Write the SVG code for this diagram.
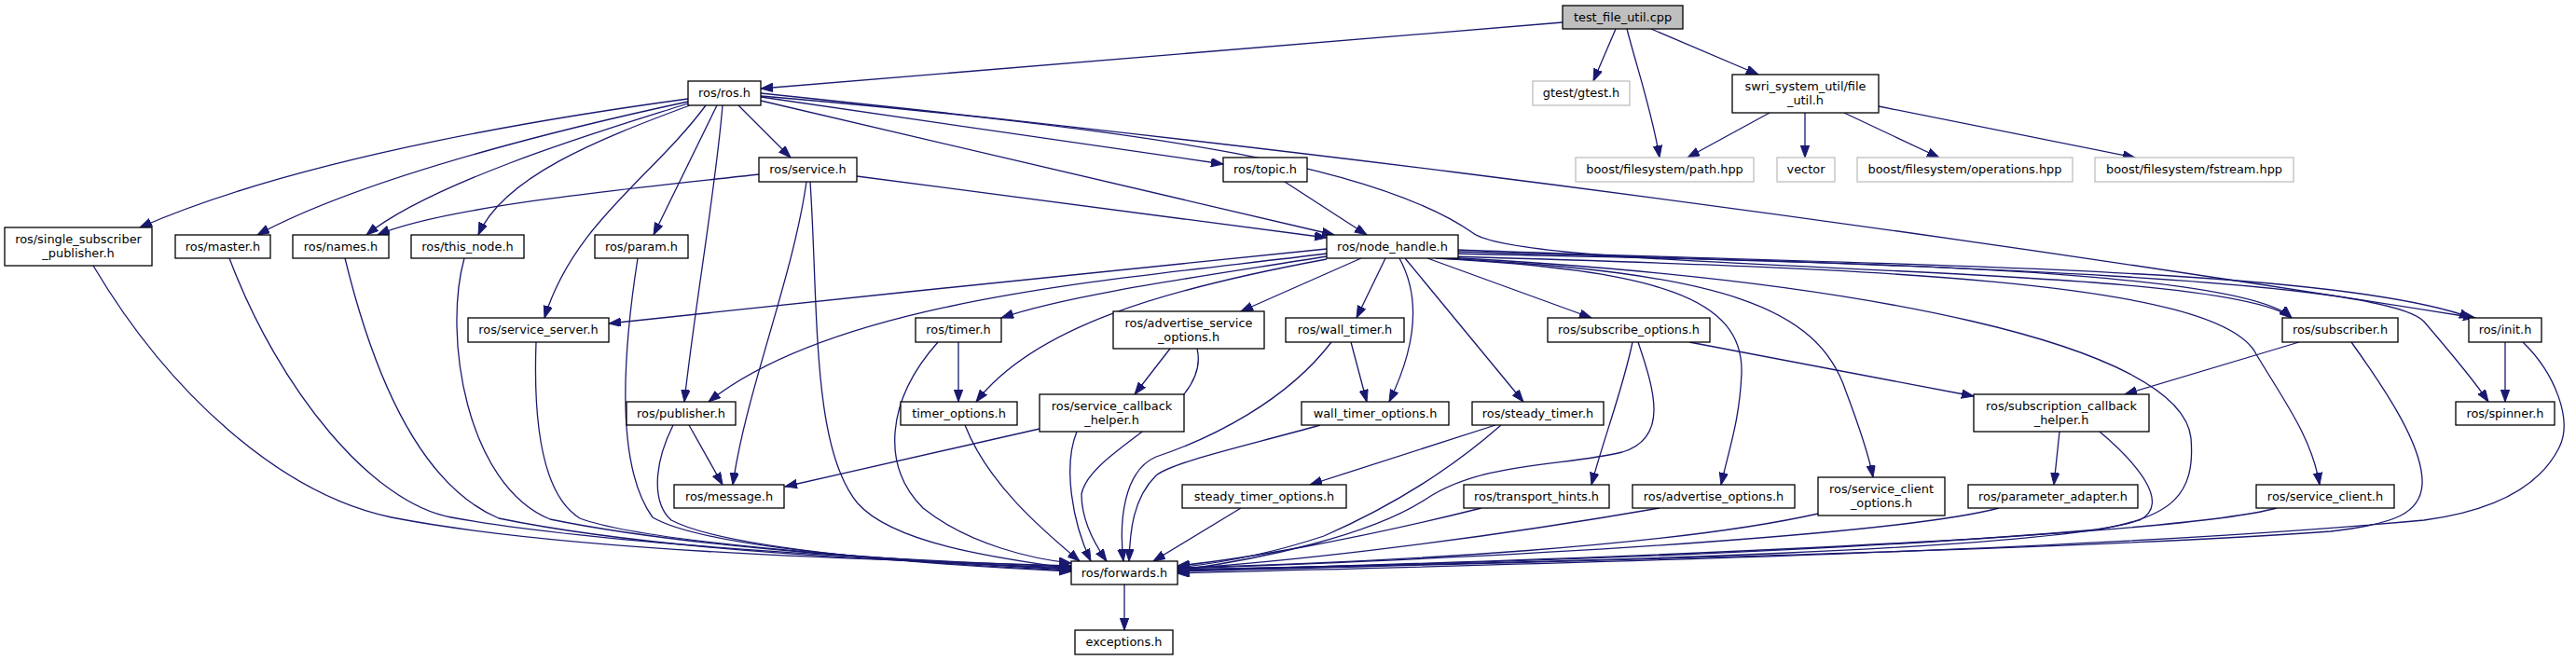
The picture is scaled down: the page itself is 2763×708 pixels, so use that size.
<svg xmlns="http://www.w3.org/2000/svg" width="2763" height="708" viewBox="0 0 2763 708">
<style>
.n rect{fill:#fff;stroke:#000;stroke-width:1.3}
.x rect{fill:#fff;stroke:#bfbfbf;stroke-width:1.3}
.r rect{fill:#bfbfbf;stroke:#000;stroke-width:1.3}
text{font-family:"DejaVu Sans","Liberation Sans",sans-serif;font-size:12.9px;text-anchor:middle;fill:#000}
#edges path{fill:none;stroke:#191970;stroke-width:1.3;marker-end:url(#a)}
</style>
<defs>
<marker id="a" markerWidth="14" markerHeight="10" refX="13" refY="4.7" orient="auto" markerUnits="userSpaceOnUse"><path d="M0,0 L13,4.7 L0,9.4 z" fill="#191970" stroke="#191970" stroke-width="1"/></marker>
</defs>
<rect width="2763" height="708" fill="#fff"/>
<g id="edges">
<path d="M1676,24 L816,95"/>
<path d="M1733,31 L1709,87"/>
<path d="M1745,31 C1755,70 1772,120 1780,169"/>
<path d="M1771,31 L1886,80"/>
<path d="M1898,121 L1810,169"/>
<path d="M1936,121 L1936,169"/>
<path d="M1978,121 L2080,169"/>
<path d="M2015,114 L2290,169"/>
<path d="M738,106 C620,122 330,165 150,244"/>
<path d="M738,109 C640,130 400,185 276,252"/>
<path d="M738,111 C680,130 470,190 393,252"/>
<path d="M740,113 C640,150 540,190 513,252"/>
<path d="M757,113 C700,190 615,240 584,341"/>
<path d="M769,113 L701,252"/>
<path d="M775,113 C768,200 745,330 734,431"/>
<path d="M792,113 L848,169"/>
<path d="M816,104 L1312,176"/>
<path d="M816,108 L1431,252"/>
<path d="M816,100 C1200,140 1800,205 2655,341"/>
<path d="M816,103 C1250,140 1480,180 1580,250 C1640,295 2380,280 2458,341"/>
<path d="M814,187 C700,200 480,220 405,252"/>
<path d="M919,189 L1423,255"/>
<path d="M865,195 C850,300 800,420 786,520"/>
<path d="M869,195 C878,330 870,480 920,540 C960,585 1080,600 1149,610"/>
<path d="M1378,195 L1466,252"/>
<path d="M100,285 C180,420 300,530 420,555 C600,590 900,600 1149,607"/>
<path d="M246,277 C300,420 400,540 484,555 C650,585 950,600 1149,608"/>
<path d="M370,277 C400,400 450,520 535,556 C700,590 950,602 1149,609"/>
<path d="M498,277 C475,360 500,520 590,557 C750,590 1000,603 1149,610"/>
<path d="M684,277 C668,380 660,500 700,555 C760,590 1000,605 1149,612"/>
<path d="M575,367 C572,450 580,530 622,556 C700,585 1000,603 1149,611"/>
<path d="M722,456 C700,500 700,540 720,558 C780,590 1000,606 1149,613"/>
<path d="M739,456 L775,520"/>
<path d="M1115,460 L842,522"/>
<path d="M1028,367 L1028,431"/>
<path d="M1006,367 C950,430 945,500 990,545 C1040,585 1110,600 1149,604"/>
<path d="M1035,456 C1060,520 1120,570 1158,602"/>
<path d="M1155,463 C1140,500 1150,560 1170,602"/>
<path d="M1284,374 C1300,440 1170,480 1160,530 C1160,560 1175,585 1187,602"/>
<path d="M1255,374 L1217,423"/>
<path d="M1449,367 L1466,431"/>
<path d="M1428,367 C1380,430 1300,470 1240,490 C1205,505 1200,560 1205,602"/>
<path d="M1416,456 C1330,480 1260,495 1240,510 C1215,535 1212,570 1211,602"/>
<path d="M1604,456 L1405,520"/>
<path d="M1610,456 C1560,500 1500,540 1420,575 C1360,595 1300,605 1263,609"/>
<path d="M1331,545 L1237,602"/>
<path d="M1589,545 C1450,580 1330,600 1263,607"/>
<path d="M1780,545 C1550,585 1350,605 1263,610"/>
<path d="M1751,367 C1740,420 1720,470 1707,520"/>
<path d="M1757,367 C1775,420 1790,470 1740,485 C1680,500 1590,495 1530,535 C1470,575 1350,600 1263,612"/>
<path d="M1812,367 L2117,425"/>
<path d="M2466,367 L2279,423"/>
<path d="M2522,367 C2560,420 2600,480 2598,520 C2596,550 2570,562 2500,570 C2200,592 1500,606 1263,613"/>
<path d="M2687,367 L2687,431"/>
<path d="M2706,367 C2740,400 2760,450 2745,480 C2720,530 2660,550 2600,558 C2200,595 1500,608 1263,615"/>
<path d="M2209,463 L2203,520"/>
<path d="M2252,463 C2290,495 2330,540 2295,558 C2200,590 1700,603 1263,611"/>
<path d="M2144,545 C2050,570 1700,595 1263,610"/>
<path d="M1950,551 C1800,585 1500,603 1263,609"/>
<path d="M2442,545 C2350,570 1900,595 1263,612"/>
<path d="M1423,267 C1200,290 900,320 653,347"/>
<path d="M1423,272 C1200,300 900,320 760,431"/>
<path d="M1423,275 C1300,295 1150,315 1074,341"/>
<path d="M1423,278 C1250,310 1110,350 1047,431"/>
<path d="M1460,277 L1331,334"/>
<path d="M1486,277 L1455,341"/>
<path d="M1501,277 C1530,330 1510,390 1490,431"/>
<path d="M1507,277 L1634,431"/>
<path d="M1531,277 L1707,341"/>
<path d="M1540,277 C1780,290 1870,320 1868,400 C1866,450 1855,480 1846,520"/>
<path d="M1545,277 C1850,292 1950,330 1980,420 C1995,460 2005,490 2009,512"/>
<path d="M1550,276 C2000,300 2340,370 2350,470 C2355,530 2330,555 2250,568 C2000,590 1600,605 1263,611"/>
<path d="M1555,275 C2000,288 2380,300 2420,380 C2450,430 2480,470 2488,520"/>
<path d="M1560,272 C1900,280 2400,285 2458,341"/>
<path d="M1564,268 C2000,285 2500,285 2651,341"/>
<path d="M1564,270 C2100,285 2560,300 2600,345 C2630,380 2655,410 2669,431"/>
<path d="M1206,627 L1206,676"/>
</g>
<g id="test_file_util" class="r"><rect x="1676" y="6" width="129" height="25"/><text x="1740.5" y="22.8">test_file_util.cpp</text></g>
<g id="ros_h" class="n"><rect x="738" y="87" width="78" height="26"/><text x="777" y="104.3">ros/ros.h</text></g>
<g id="gtest" class="x"><rect x="1644" y="87" width="104" height="26"/><text x="1696" y="104.3">gtest/gtest.h</text></g>
<g id="file_util" class="n"><rect x="1858" y="80" width="157" height="41"/><text x="1936.5" y="97.3">swri_system_util/file</text><text x="1936.5" y="112.3">_util.h</text></g>
<g id="service" class="n"><rect x="814" y="169" width="105" height="26"/><text x="866.5" y="186.3">ros/service.h</text></g>
<g id="topic" class="n"><rect x="1312" y="169" width="90" height="26"/><text x="1357" y="186.3">ros/topic.h</text></g>
<g id="path" class="x"><rect x="1690" y="169" width="191" height="26"/><text x="1785.5" y="186.3">boost/filesystem/path.hpp</text></g>
<g id="vector" class="x"><rect x="1906" y="169" width="62" height="26"/><text x="1937" y="186.3">vector</text></g>
<g id="operations" class="x"><rect x="1992" y="169" width="231" height="26"/><text x="2107.5" y="186.3">boost/filesystem/operations.hpp</text></g>
<g id="fstream" class="x"><rect x="2247" y="169" width="213" height="26"/><text x="2353.5" y="186.3">boost/filesystem/fstream.hpp</text></g>
<g id="single_subscriber_publisher" class="n"><rect x="5" y="244" width="158" height="41"/><text x="84" y="261.3">ros/single_subscriber</text><text x="84" y="276.3">_publisher.h</text></g>
<g id="master" class="n"><rect x="188" y="252" width="102" height="25"/><text x="239" y="268.8">ros/master.h</text></g>
<g id="names" class="n"><rect x="314" y="252" width="103" height="25"/><text x="365.5" y="268.8">ros/names.h</text></g>
<g id="this_node" class="n"><rect x="441" y="252" width="121" height="25"/><text x="501.5" y="268.8">ros/this_node.h</text></g>
<g id="param" class="n"><rect x="638" y="252" width="100" height="25"/><text x="688" y="268.8">ros/param.h</text></g>
<g id="node_handle" class="n"><rect x="1423" y="252" width="141" height="25"/><text x="1493.5" y="268.8">ros/node_handle.h</text></g>
<g id="service_server" class="n"><rect x="502" y="341" width="151" height="26"/><text x="577.5" y="358.3">ros/service_server.h</text></g>
<g id="timer" class="n"><rect x="982" y="341" width="92" height="26"/><text x="1028" y="358.3">ros/timer.h</text></g>
<g id="advertise_service_options" class="n"><rect x="1194" y="334" width="162" height="40"/><text x="1275" y="350.8">ros/advertise_service</text><text x="1275" y="365.8">_options.h</text></g>
<g id="wall_timer" class="n"><rect x="1379" y="341" width="127" height="26"/><text x="1442.5" y="358.3">ros/wall_timer.h</text></g>
<g id="subscribe_options" class="n"><rect x="1660" y="341" width="174" height="26"/><text x="1747" y="358.3">ros/subscribe_options.h</text></g>
<g id="subscriber" class="n"><rect x="2448" y="341" width="124" height="26"/><text x="2510" y="358.3">ros/subscriber.h</text></g>
<g id="init" class="n"><rect x="2648" y="341" width="78" height="26"/><text x="2687" y="358.3">ros/init.h</text></g>
<g id="publisher" class="n"><rect x="672" y="431" width="117" height="25"/><text x="730.5" y="447.8">ros/publisher.h</text></g>
<g id="timer_options" class="n"><rect x="966" y="431" width="125" height="25"/><text x="1028.5" y="447.8">timer_options.h</text></g>
<g id="service_callback_helper" class="n"><rect x="1115" y="423" width="155" height="40"/><text x="1192.5" y="439.8">ros/service_callback</text><text x="1192.5" y="454.8">_helper.h</text></g>
<g id="wall_timer_options" class="n"><rect x="1396" y="431" width="158" height="25"/><text x="1475" y="447.8">wall_timer_options.h</text></g>
<g id="steady_timer" class="n"><rect x="1579" y="431" width="141" height="25"/><text x="1649.5" y="447.8">ros/steady_timer.h</text></g>
<g id="subscription_callback_helper" class="n"><rect x="2117" y="423" width="188" height="40"/><text x="2211" y="439.8">ros/subscription_callback</text><text x="2211" y="454.8">_helper.h</text></g>
<g id="spinner" class="n"><rect x="2634" y="431" width="106" height="25"/><text x="2687" y="447.8">ros/spinner.h</text></g>
<g id="message" class="n"><rect x="723" y="520" width="118" height="25"/><text x="782" y="536.8">ros/message.h</text></g>
<g id="steady_timer_options" class="n"><rect x="1268" y="520" width="176" height="25"/><text x="1356" y="536.8">steady_timer_options.h</text></g>
<g id="transport_hints" class="n"><rect x="1570" y="520" width="156" height="25"/><text x="1648" y="536.8">ros/transport_hints.h</text></g>
<g id="advertise_options" class="n"><rect x="1751" y="520" width="174" height="25"/><text x="1838" y="536.8">ros/advertise_options.h</text></g>
<g id="service_client_options" class="n"><rect x="1950" y="512" width="136" height="41"/><text x="2018" y="529.3">ros/service_client</text><text x="2018" y="544.3">_options.h</text></g>
<g id="parameter_adapter" class="n"><rect x="2111" y="520" width="182" height="25"/><text x="2202" y="536.8">ros/parameter_adapter.h</text></g>
<g id="service_client" class="n"><rect x="2420" y="520" width="148" height="25"/><text x="2494" y="536.8">ros/service_client.h</text></g>
<g id="forwards" class="n"><rect x="1149" y="602" width="114" height="25"/><text x="1206" y="618.8">ros/forwards.h</text></g>
<g id="exceptions" class="n"><rect x="1153" y="676" width="105" height="26"/><text x="1205.5" y="693.3">exceptions.h</text></g>
</svg>
